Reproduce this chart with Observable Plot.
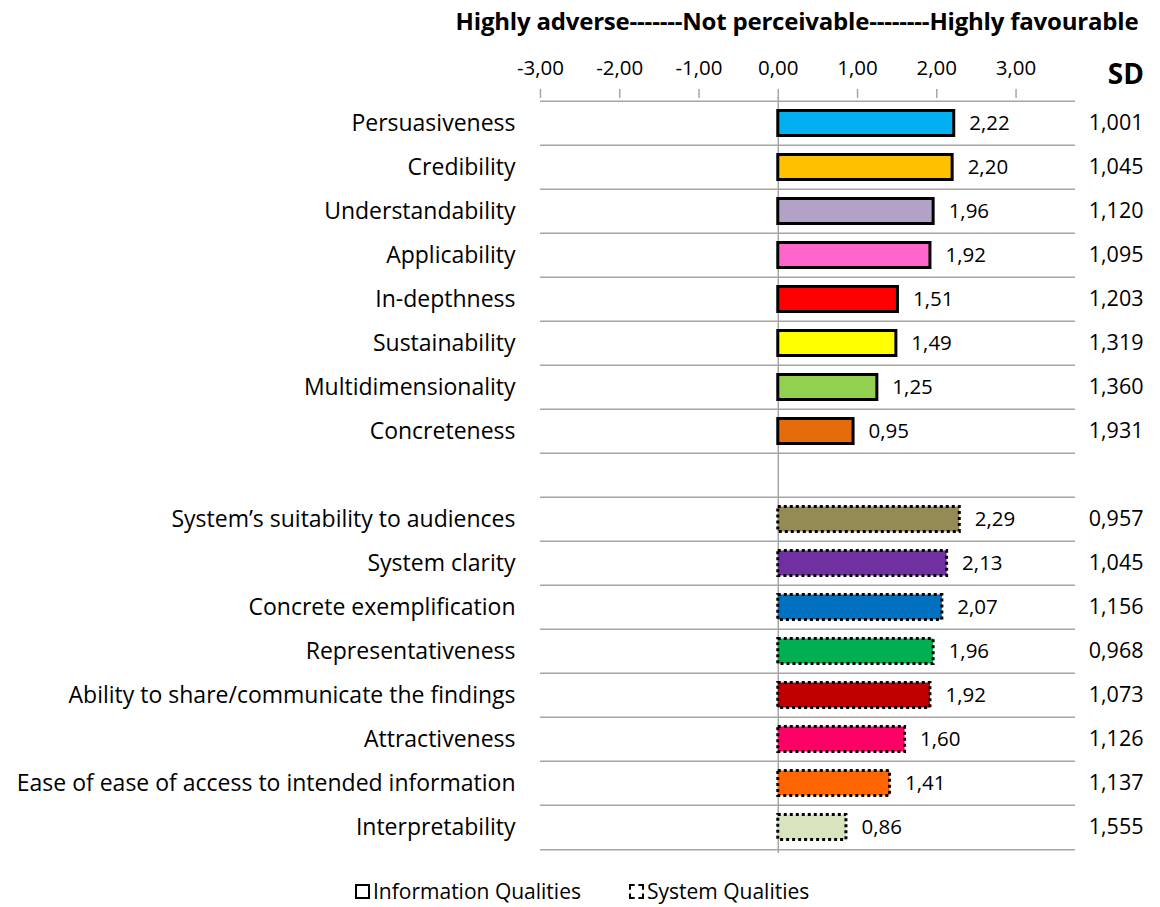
<!DOCTYPE html>
<html>
<head>
<meta charset="utf-8">
<script src="https://cdn.jsdelivr.net/npm/d3@7"></script>
<script src="https://cdn.jsdelivr.net/npm/@observablehq/plot@0.6"></script>
<style>
  body { margin: 0; background: #fff; font-family: "Open Sans", Lato, sans-serif; }
  #wrap { position: relative; width: 1160px; height: 907px; }
  #header { position: absolute; left: 440px; width: 714px; top: 4px; text-align: center; font-weight: bold; font-size: 24px; white-space: nowrap; letter-spacing: -0.2px; }
  #sd { position: absolute; left: 1070px; width: 74px; top: 54px; text-align: right; font-weight: bold; font-size: 28px; }
  #chart { position: absolute; left: 0; top: 0; }
  #legend { position: absolute; top: 877px; left: 0; width: 1160px; font-size: 21px; }
  .lg { position: absolute; display: flex; align-items: center; white-space: nowrap; }
  .sw { width: 11px; height: 11px; border: 2.5px solid #000; margin-right: 3px; }
  .sw.dot { border-style: dashed; border-width: 2.5px; }
</style>
</head>
<body>
<div id="wrap">
  <div id="chart"></div>
  <div id="header">Highly adverse-------Not perceivable--------Highly favourable</div>
  <div id="sd">SD</div>
  <div id="legend">
    <div class="lg" style="left:355px"><span class="sw"></span>Information Qualities</div>
    <div class="lg" style="left:629px"><span class="sw dot"></span>System Qualities</div>
  </div>
</div>
<script>
const infoNames = ["Persuasiveness", "Credibility", "Understandability", "Applicability", "In-depthness", "Sustainability", "Multidimensionality", "Concreteness"];
const infoValues = [2.22, 2.20, 1.96, 1.92, 1.51, 1.49, 1.25, 0.95];
const infoSD = ["1,001", "1,045", "1,120", "1,095", "1,203", "1,319", "1,360", "1,931"];
const infoColors = ["#00B0F0", "#FFC000", "#B3A2C7", "#FF66CC", "#FF0000", "#FFFF00", "#92D050", "#E46C0A"];

const sysNames = ["System\u2019s suitability to audiences", "System clarity", "Concrete exemplification", "Representativeness", "Ability to share/communicate the findings", "Attractiveness", "Ease of ease of access to intended information", "Interpretability"];
const sysValues = [2.29, 2.13, 2.07, 1.96, 1.92, 1.60, 1.41, 0.86];
const sysSD = ["0,957", "1,045", "1,156", "0,968", "1,073", "1,126", "1,137", "1,555"];
const sysColors = ["#948A54", "#7030A0", "#0070C0", "#00B050", "#C00000", "#FF0066", "#FF6600", "#D7E4BD"];

const xTicks = [-3, -2, -1, 0, 1, 2, 3];
const xDomain = [-3, 3.75];

const info = infoNames.map((name, i) => ({name, value: infoValues[i], sd: infoSD[i], group: "Information Qualities"}));
const sys = sysNames.map((name, i) => ({name, value: sysValues[i], sd: sysSD[i], group: "System Qualities"}));
const all = [...info, ...sys];
const yDomain = [...infoNames, "", ...sysNames];

const W = 1160, H = 907, MT = 97, MB = 54;
const step = (H - MT - MB) / yDomain.length;
const fmt = d => d.toFixed(2).replace(".", ",");
const grid = "#a6a6a6";

const plot = Plot.plot({
  width: W, height: H,
  marginTop: MT, marginBottom: MB, marginLeft: 540, marginRight: 85,
  style: {fontFamily: "'Open Sans', Lato, sans-serif", fontSize: "21px", color: "#000", background: "white"},
  x: {domain: xDomain, label: null},
  y: {domain: yDomain, padding: 0, label: null},
  color: {domain: [...infoNames, ...sysNames], range: [...infoColors, ...sysColors]},
  marks: [
    Plot.ruleY(yDomain, {y: d => d, dy: -step / 2, stroke: grid, strokeWidth: 1.5}),
    Plot.ruleY([yDomain[yDomain.length - 1]], {y: d => d, dy: step / 2, stroke: grid, strokeWidth: 1.5}),
    Plot.ruleX([0], {stroke: grid, strokeWidth: 1.5}),
    Plot.barX(info, {y: "name", x1: 0, x2: "value", fill: "name", stroke: "#000", strokeWidth: 3, insetTop: 9.5, insetBottom: 9.5}),
    Plot.barX(sys, {y: "name", x1: 0, x2: "value", fill: "name", stroke: "#000", strokeWidth: 3, strokeDasharray: "3,3", insetTop: 9.5, insetBottom: 9.5}),
    Plot.text(all, {y: "name", x: "value", text: d => fmt(d.value), dx: 15, textAnchor: "start", fontSize: 20.5, fill: "#000"}),
    Plot.text(all, {y: "name", text: "sd", frameAnchor: "right", dx: 68, textAnchor: "end", fontSize: 21.5, fill: "#000"}),
    Plot.axisX({anchor: "top", ticks: xTicks, tickFormat: fmt, tickSize: 9, tickPadding: 14, stroke: grid, strokeWidth: 1.5, fill: "#000", fontSize: 20.5, label: null}),
    Plot.axisY({anchor: "left", tickSize: 0, tickPadding: 25, fill: "#000", fontSize: 23, label: null})
  ]
});
document.getElementById("chart").appendChild(plot);
</script>
</body>
</html>
